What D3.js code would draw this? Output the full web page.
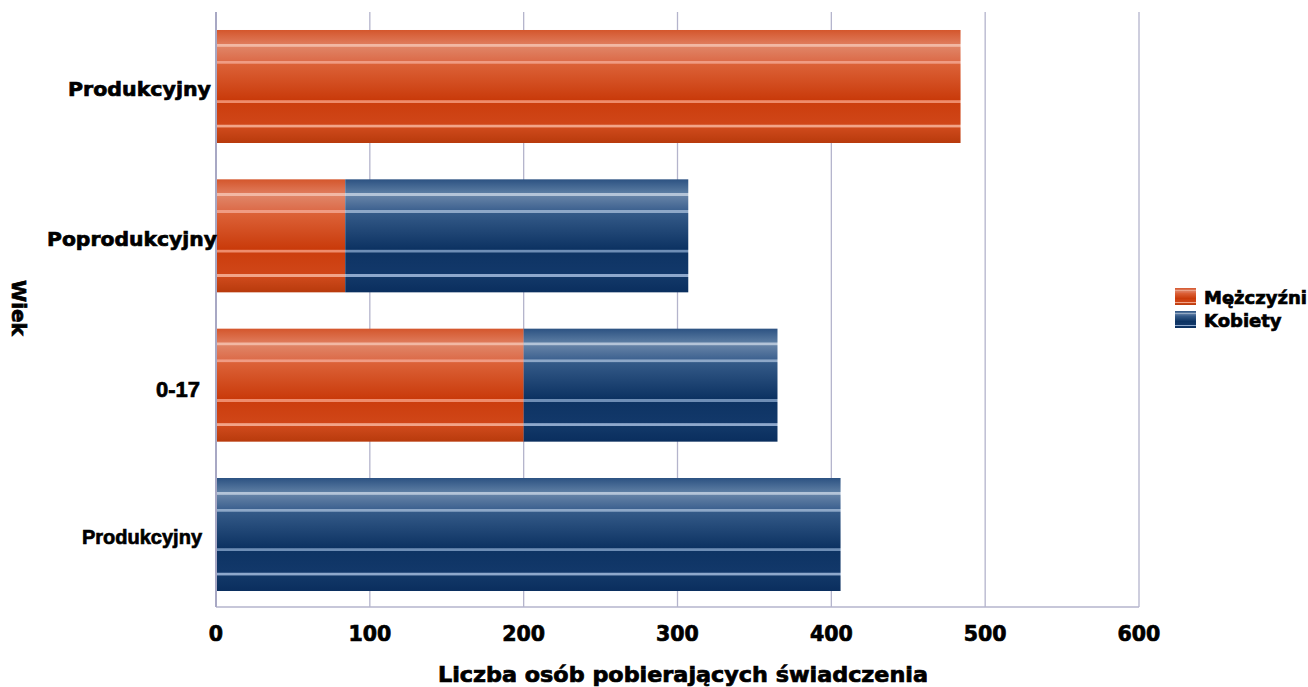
<!DOCTYPE html>
<html><head><meta charset="utf-8">
<script src="https://cdn.jsdelivr.net/npm/d3@7"></script>
<style>body{margin:0;background:#fff}svg{display:block}text{font-family:"DejaVu Sans",sans-serif;font-weight:bold;fill:#000;stroke:#000;stroke-width:0.7px}</style>
</head><body>
<svg id="c" width="1308" height="687"></svg>
<script>
const categories = ["Produkcyjny","Poprodukcyjny","0-17","Produkcyjny "];
const men = [484, 84, 200, 0];
const women = [0, 223, 165, 406];
const seriesNames = ["Mężczyźni","Kobiety"];
const xTicks = [0,100,200,300,400,500,600];
const xTitle = "Liczba osób pobierających świadczenia";
const yTitle = "Wiek";

const svg = d3.select("#c");
const m = {l:216, r:1139, t:12, b:607};
const x = d3.scaleLinear().domain([0,600]).range([m.l, m.r]);
const y = d3.scaleBand().domain(categories).range([m.t, 609]).paddingInner(0.2433).paddingOuter(0.1205);

const defs = svg.append("defs");
function grad(id, stops){
  const g = defs.append("linearGradient").attr("id",id).attr("x1",0).attr("y1",0).attr("x2",0).attr("y2",1);
  stops.forEach(s=>g.append("stop").attr("offset",s[0]).attr("stop-color",s[1]));
}
grad("gOr",[[0,"#d4562c"],[0.12,"#df7a5a"],[0.125,"#f2b8a4"],[0.145,"#f2b8a4"],[0.15,"#e08466"],[0.27,"#dc6c4a"],[0.275,"#f09c84"],[0.295,"#f09c84"],[0.30,"#dc6238"],[0.62,"#c93a0a"],[0.625,"#ee8c6c"],[0.645,"#ee8c6c"],[0.65,"#cc3e0e"],[0.835,"#d04618"],[0.84,"#f2a488"],[0.86,"#f2a488"],[0.865,"#cf4a1c"],[1,"#b83a0c"]]);
grad("gBl",[[0,"#2c5282"],[0.12,"#5b7ca2"],[0.125,"#b4c4d8"],[0.145,"#b4c4d8"],[0.15,"#6582a6"],[0.27,"#3e6290"],[0.275,"#8ea8c8"],[0.295,"#8ea8c8"],[0.30,"#345a88"],[0.62,"#0c3262"],[0.625,"#6e8eb6"],[0.645,"#6e8eb6"],[0.65,"#0e3464"],[0.835,"#12386a"],[0.84,"#8ea8cc"],[0.86,"#8ea8cc"],[0.865,"#123868"],[1,"#0a2e5e"]]);

// grid
svg.append("g").selectAll("line").data(xTicks.slice(1)).join("line")
  .attr("x1",d=>x(d)).attr("x2",d=>x(d)).attr("y1",m.t).attr("y2",m.b)
  .attr("stroke","#b4b4cc").attr("stroke-width",1.3);
svg.append("line").attr("x1",m.l).attr("x2",m.r).attr("y1",m.b).attr("y2",m.b).attr("stroke","#b4b4cc").attr("stroke-width",1.3);

// bars
const rows = categories.map((c,i)=>({c, m:men[i], w:women[i]}));
svg.append("g").selectAll("rect.m").data(rows.filter(d=>d.m>0)).join("rect")
  .attr("x",x(0)).attr("y",d=>y(d.c)).attr("width",d=>x(d.m)-x(0)).attr("height",y.bandwidth()).attr("fill","url(#gOr)");
svg.append("g").selectAll("rect.w").data(rows.filter(d=>d.w>0)).join("rect")
  .attr("x",d=>x(d.m)).attr("y",d=>y(d.c)).attr("width",d=>x(d.m+d.w)-x(d.m)).attr("height",y.bandwidth()).attr("fill","url(#gBl)");

// y axis line
svg.append("line").attr("x1",m.l).attr("x2",m.l).attr("y1",m.t).attr("y2",m.b).attr("stroke","#a8a8c4").attr("stroke-width",2);

// y labels
const yl = svg.append("g");
const labStyles = [
  {size:20, fam:"DejaVu Sans", x:211, dy:10, len:143},
  {size:20, fam:"DejaVu Sans", x:217, dy:10, len:170},
  {size:22, fam:"Liberation Sans", x:200, dy:12, len:44},
  {size:21, fam:"Liberation Sans", x:202, dy:9, len:120}
];
categories.forEach((c,i)=>{
  yl.append("text").attr("x",labStyles[i].x).attr("y",y(c)+y.bandwidth()/2+labStyles[i].dy)
    .attr("text-anchor","end").attr("textLength",labStyles[i].len).attr("lengthAdjust","spacingAndGlyphs")
    .style("font-family",labStyles[i].fam).style("font-size",labStyles[i].size+"px").text(c.trim());
});

// x ticks
svg.append("g").selectAll("text").data(xTicks).join("text")
  .attr("x",d=>x(d)).attr("y",641).attr("text-anchor","middle").style("font-size","20.5px").text(d=>d);

// titles
svg.append("text").attr("x",683).attr("y",682).attr("text-anchor","middle").attr("textLength",490).attr("lengthAdjust","spacingAndGlyphs").style("font-size","20.5px").text(xTitle);
svg.append("text").attr("transform","translate(12,308) rotate(90)").attr("text-anchor","middle").style("font-size","20px").text(yTitle);

// legend
const lg = svg.append("g");
seriesNames.forEach((s,i)=>{
  lg.append("rect").attr("x",1175).attr("y",288+i*23).attr("width",21).attr("height",17).attr("fill",i?"url(#gBl)":"url(#gOr)");
  lg.append("text").attr("x",1204).attr("y",304+i*23).style("font-size","18px").text(s);
});
</script>
</body></html>
